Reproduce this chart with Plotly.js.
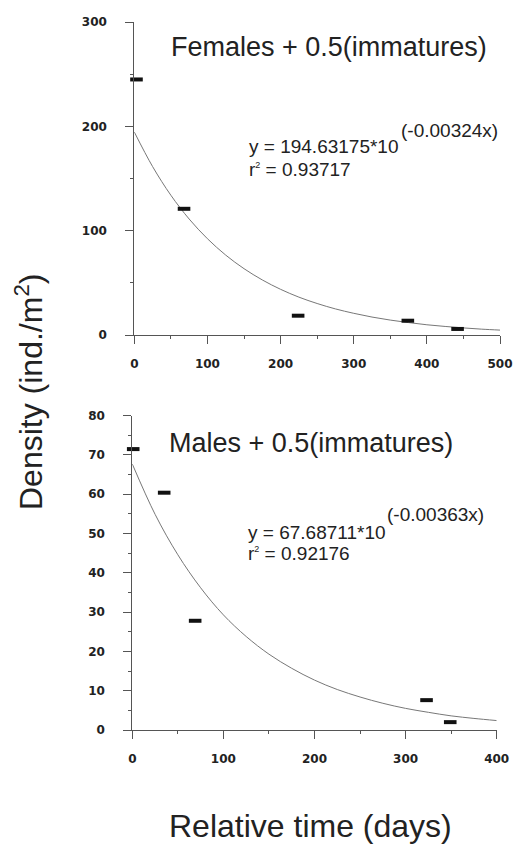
<!DOCTYPE html>
<html>
<head>
<meta charset="utf-8">
<script src="https://cdn.plot.ly/plotly-3.0.1.min.js"></script>
<style>
html,body{margin:0;padding:0;background:#fff;}
#chart{width:519px;height:846px;}
</style>
</head>
<body>
<div id="chart"></div>
<script>
// ---- Data ----
const femaleDays = [3, 68, 224, 374, 442];
const femaleDensity = [245, 121, 18.5, 13.7, 5.8];
const maleDays = [1, 35, 69, 323, 349];
const maleDensity = [71.5, 60.4, 27.8, 7.6, 2.0];

// fitted curves as drawn
const femaleFitDays = [0,25,50,75,100,125,150,175,200,225,250,275,300,325,350,375,400,425,450,475,500];
const femaleFitDensity = [194.6,161.5,134.0,111.2,92.3,76.6,63.6,52.8,43.8,36.3,30.2,25.0,20.8,17.2,14.3,11.9,9.8,8.2,6.8,5.6,4.7];
const maleFitDays = [0,25,50,75,100,125,150,175,200,225,250,275,300,325,350,375,400];
const maleFitDensity = [67.7,54.9,44.6,36.2,29.3,23.8,19.3,15.7,12.7,10.3,8.4,6.8,5.5,4.5,3.6,2.95,2.4];

const femaleTitle = "Females + 0.5(immatures)";
const maleTitle = "Males + 0.5(immatures)";
const femaleEq = "y = 194.63175*10";
const femaleExp = "(-0.00324x)";
const femaleR2 = "r<sup><span style=\"font-size:9px\">2</span></sup> = 0.93717";
const maleEq = "y = 67.68711*10";
const maleExp = "(-0.00363x)";
const maleR2 = "r<sup><span style=\"font-size:9px\">2</span></sup> = 0.92176";
const yTitle = "Density (ind./m<sup>2</sup>)";
const xTitle = "Relative time (days)";

// ---- Layout helpers ----
const W = 519, H = 846;
const px = (x) => x / W;
const py = (y) => (H - y) / H;

const txt = "#222";
const axCol = "#555";
const tickFont = {family: "DejaVu Sans", size: 12, color: txt, weight: 700};
const textFont = "Liberation Sans, Arial, sans-serif";

const markerStyle = {symbol: "line-ew", size: 9, color: "#111", line: {width: 4, color: "#111"}};
const fitLine = {color: "#777", width: 1, shape: "spline"};

const traces = [
  {x: femaleFitDays, y: femaleFitDensity, mode: "lines", line: fitLine, xaxis: "x", yaxis: "y", hoverinfo: "skip", cliponaxis: false},
  {x: femaleDays, y: femaleDensity, mode: "markers", marker: markerStyle, xaxis: "x", yaxis: "y", cliponaxis: false},
  {x: maleFitDays, y: maleFitDensity, mode: "lines", line: fitLine, xaxis: "x2", yaxis: "y2", hoverinfo: "skip", cliponaxis: false},
  {x: maleDays, y: maleDensity, mode: "markers", marker: markerStyle, xaxis: "x2", yaxis: "y2", cliponaxis: false}
];

function axisBase(extra) {
  return Object.assign({
    showline: true, linecolor: axCol, linewidth: 1,
    ticks: "outside", ticklen: 8, tickwidth: 1, tickcolor: axCol,
    showgrid: false, zeroline: false, tickfont: tickFont,
    fixedrange: true
  }, extra);
}

const layout = {
  width: W, height: H,
  margin: {l: 0, r: 0, t: 0, b: 0},
  paper_bgcolor: "#fff", plot_bgcolor: "rgba(0,0,0,0)",
  showlegend: false,
  xaxis: axisBase({domain: [px(134.3), px(500)], range: [0, 500], tickvals: [0,100,200,300,400,500], anchor: "y",
    minor: {dtick: 50, ticks: "outside", ticklen: 3, tickcolor: axCol}, ticklabelstandoff: 10}),
  yaxis: axisBase({domain: [py(335), py(22.1)], range: [0, 300], tickvals: [0,100,200,300], anchor: "x",
    minor: {dtick: 50, ticks: "outside", ticklen: 3, tickcolor: axCol}, ticklabelstandoff: 16}),
  xaxis2: axisBase({domain: [px(132.3), px(496.7)], range: [0, 400], tickvals: [0,100,200,300,400], anchor: "y2",
    minor: {dtick: 50, ticks: "outside", ticklen: 3, tickcolor: axCol}, ticklabelstandoff: 10}),
  yaxis2: axisBase({domain: [py(730), py(415.7)], range: [0, 80], tickvals: [0,10,20,30,40,50,60,70,80], anchor: "x2",
    minor: {dtick: 5, ticks: "outside", ticklen: 3, tickcolor: axCol}, ticklabelstandoff: 16}),
  annotations: [
    {text: femaleTitle, x: px(328.5), y: py(47), xref: "paper", yref: "paper", xanchor: "center", yanchor: "middle", showarrow: false, font: {family: textFont, size: 27, color: txt}},
    {text: maleTitle, x: px(311), y: py(443), xref: "paper", yref: "paper", xanchor: "center", yanchor: "middle", showarrow: false, font: {family: textFont, size: 27, color: txt}},
    {text: femaleEq, x: px(247), y: py(147), xref: "paper", yref: "paper", xanchor: "left", yanchor: "middle", showarrow: false, font: {family: textFont, size: 19, color: txt}},
    {text: femaleExp, x: px(399), y: py(131), xref: "paper", yref: "paper", xanchor: "left", yanchor: "middle", showarrow: false, font: {family: textFont, size: 19, color: txt}},
    {text: femaleR2, x: px(247), y: py(169), xref: "paper", yref: "paper", xanchor: "left", yanchor: "middle", showarrow: false, font: {family: textFont, size: 19, color: txt}},
    {text: maleEq, x: px(246), y: py(532), xref: "paper", yref: "paper", xanchor: "left", yanchor: "middle", showarrow: false, font: {family: textFont, size: 19, color: txt}},
    {text: maleExp, x: px(385), y: py(514), xref: "paper", yref: "paper", xanchor: "left", yanchor: "middle", showarrow: false, font: {family: textFont, size: 19, color: txt}},
    {text: maleR2, x: px(246), y: py(553), xref: "paper", yref: "paper", xanchor: "left", yanchor: "middle", showarrow: false, font: {family: textFont, size: 19, color: txt}},
    {text: yTitle, x: px(29), y: py(392), xref: "paper", yref: "paper", xanchor: "center", yanchor: "middle", textangle: -90, showarrow: false, font: {family: textFont, size: 32, color: txt}},
    {text: xTitle, x: px(310), y: py(826), xref: "paper", yref: "paper", xanchor: "center", yanchor: "middle", showarrow: false, font: {family: textFont, size: 32, color: txt}}
  ]
};

Plotly.newPlot("chart", traces, layout, {staticPlot: true, displayModeBar: false});
</script>
</body>
</html>
